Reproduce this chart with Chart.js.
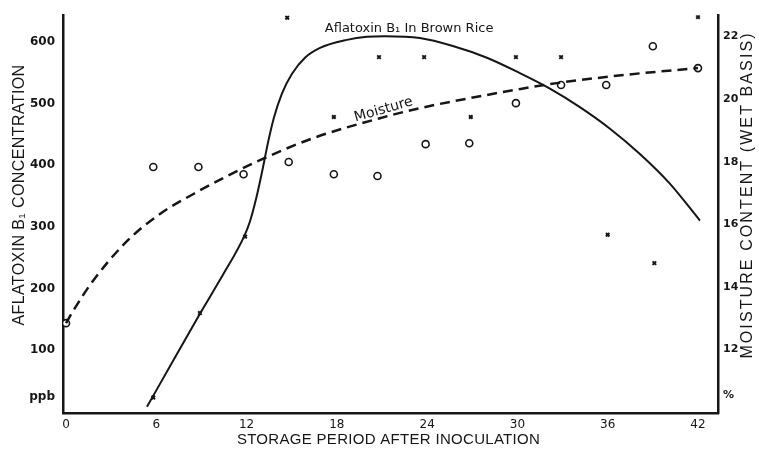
<!DOCTYPE html>
<html>
<head>
<meta charset="utf-8">
<script src="https://cdn.jsdelivr.net/npm/chart.js@4.4.1/dist/chart.umd.min.js"></script>
<style>
  html, body { margin: 0; padding: 0; background: #fff; }
  #wrap { width: 759px; height: 451px; }
</style>
</head>
<body>
<div id="wrap"><canvas id="chart" width="759" height="451"></canvas></div>
<script>
// readings taken off the figure (days after inoculation)
const sampleDays = [5.8, 8.9, 11.9, 14.7, 17.8, 20.8, 23.8, 26.9, 29.9, 32.9, 36.0, 39.1, 42.0];
const aflatoxinPpb = [23, 160, 284, 639, 478, 575, 575, 478, 575, 575, 287, 241, 640];

const moistureDays = [0, 5.8, 8.8, 11.8, 14.8, 17.8, 20.7, 23.9, 26.8, 29.9, 32.9, 35.9, 39.0, 42.0];
const moisturePct = [12.84, 17.83, 17.83, 17.6, 17.99, 17.6, 17.54, 18.56, 18.59, 19.87, 20.45, 20.45, 21.69, 20.99];

// the two hand drawn curves, traced
const aflaCurveDays = [5.38, 7.24, 8.9, 10.43, 11.83, 12.23, 12.62, 13.02, 13.42, 13.82, 14.35, 15.02, 15.88, 16.88, 18.67, 20.0, 21.2, 23.52, 25.71, 27.97, 30.17, 32.16, 34.15, 36.15, 38.14, 40.13, 42.13];
const aflaCurvePpb = [8, 88, 159, 222, 284, 309, 344, 388, 436, 477, 516, 548, 574, 590, 603, 608, 609, 606, 593, 574, 549, 524, 494, 459, 418, 370, 310];

const moistCurveDays = [0, 0.47, 1.79, 4.05, 6.24, 8.44, 10.7, 12.89, 16.41, 20.86, 23.52, 26.84, 30.17, 32.62, 37.28, 42.0];
const moistCurvePct = [12.84, 13.23, 14.19, 15.46, 16.33, 16.96, 17.54, 18.05, 18.75, 19.39, 19.71, 20.03, 20.32, 20.51, 20.78, 20.99];

// axes
const dayTicks = [0, 6, 12, 18, 24, 30, 36, 42];
const ppbTicks = [100, 200, 300, 400, 500, 600];
const pctTicks = [12, 14, 16, 18, 20, 22];
const PPB_UNIT_AT = 24;
const PCT_UNIT_AT = 10.54;

const INK = "#161616";
const TICK_FONT = { family: "DejaVu Sans", size: 12, weight: "bold" };

const toXY = (xs, ys) => xs.map((x, i) => ({ x: x, y: ys[i] }));

const rotatedText = (ctx, text, x, y, deg) => {
    ctx.save();
    ctx.translate(x, y);
    ctx.rotate(deg * Math.PI / 180);
    ctx.fillText(text, 0, 0);
    ctx.restore();
};

// titles and curve labels
const textPlugin = {
    id: "figureText",
    afterDraw: (chart) => {
        const { ctx, chartArea, scales } = chart;
        ctx.save();
        ctx.fillStyle = INK;
        ctx.textAlign = "center";
        ctx.textBaseline = "middle";

        ctx.font = '15px "Liberation Sans"';
        ctx.letterSpacing = "0.3px";
        ctx.fillText("STORAGE PERIOD AFTER INOCULATION", (chartArea.left + chartArea.right) / 2 - 2, chartArea.bottom + 27);

        ctx.font = '16px "Liberation Sans"';
        ctx.letterSpacing = "0.4px";
        rotatedText(ctx, "AFLATOXIN B\u2081 CONCENTRATION", chartArea.left - 43, 195, -90);

        ctx.letterSpacing = "2.1px";
        rotatedText(ctx, "MOISTURE CONTENT (WET BASIS)", chartArea.right + 30, 195, -90);

        ctx.letterSpacing = "0px";
        ctx.font = '13px "DejaVu Sans"';
        ctx.textAlign = "left";
        ctx.fillText("Aflatoxin B\u2081 In Brown Rice", scales.x.getPixelForValue(17.2), scales.yL.getPixelForValue(621));

        ctx.font = '14px "DejaVu Sans"';
        ctx.textAlign = "center";
        rotatedText(ctx, "Moisture", scales.x.getPixelForValue(21.1), scales.yR.getPixelForValue(19.66), -16);

        ctx.restore();
    }
};

const axisBorder = { display: true, color: INK, width: 2.5 };

new Chart(document.getElementById("chart").getContext("2d"), {
    type: "scatter",
    data: {
        datasets: [
            {
                label: "Aflatoxin curve",
                data: toXY(aflaCurveDays, aflaCurvePpb),
                yAxisID: "yL",
                showLine: true,
                cubicInterpolationMode: "monotone",
                borderColor: INK,
                borderWidth: 2,
                pointRadius: 0
            },
            {
                label: "Moisture curve",
                data: toXY(moistCurveDays, moistCurvePct),
                yAxisID: "yR",
                showLine: true,
                cubicInterpolationMode: "monotone",
                borderColor: INK,
                borderWidth: 2.5,
                borderDash: [10, 6],
                pointRadius: 0
            },
            {
                label: "Aflatoxin",
                data: toXY(sampleDays, aflatoxinPpb),
                yAxisID: "yL",
                pointStyle: "crossRot",
                pointRadius: 2.5,
                borderWidth: 2,
                borderColor: INK
            },
            {
                label: "Moisture",
                data: toXY(moistureDays, moisturePct),
                yAxisID: "yR",
                pointStyle: "circle",
                pointRadius: 3.5,
                borderWidth: 1.6,
                borderColor: INK,
                backgroundColor: "#fff"
            }
        ]
    },
    options: {
        responsive: false,
        animation: false,
        layout: { padding: { top: 15, left: 0, right: 0, bottom: 0 } },
        plugins: {
            legend: { display: false },
            tooltip: { enabled: false }
        },
        scales: {
            x: {
                type: "linear",
                min: -0.2,
                max: 43.33,
                border: axisBorder,
                grid: { display: false, drawTicks: false },
                afterBuildTicks: (s) => { s.ticks = dayTicks.map((v) => ({ value: v })); },
                afterFit: (s) => { s.height = 38; },
                ticks: { color: INK, font: { family: "DejaVu Sans", size: 12 }, padding: 5, maxRotation: 0 }
            },
            yL: {
                type: "linear",
                position: "left",
                min: -2,
                max: 643,
                border: axisBorder,
                grid: { display: false, drawTicks: false },
                afterBuildTicks: (s) => { s.ticks = [PPB_UNIT_AT].concat(ppbTicks).map((v) => ({ value: v })); },
                afterFit: (s) => { s.width = 63; },
                ticks: {
                    color: INK,
                    font: TICK_FONT,
                    padding: 8,
                    callback: (v) => (v === PPB_UNIT_AT ? "ppb" : v)
                }
            },
            yR: {
                type: "linear",
                position: "right",
                min: 9.97,
                max: 22.68,
                border: axisBorder,
                grid: { display: false, drawTicks: false },
                afterBuildTicks: (s) => { s.ticks = [PCT_UNIT_AT].concat(pctTicks).map((v) => ({ value: v })); },
                afterFit: (s) => { s.width = 41; },
                ticks: {
                    color: INK,
                    font: { family: "DejaVu Sans", size: 11, weight: "bold" },
                    padding: 5,
                    callback: (v) => (v === PCT_UNIT_AT ? "%" : v)
                }
            }
        }
    },
    plugins: [textPlugin]
});
</script>
</body>
</html>
